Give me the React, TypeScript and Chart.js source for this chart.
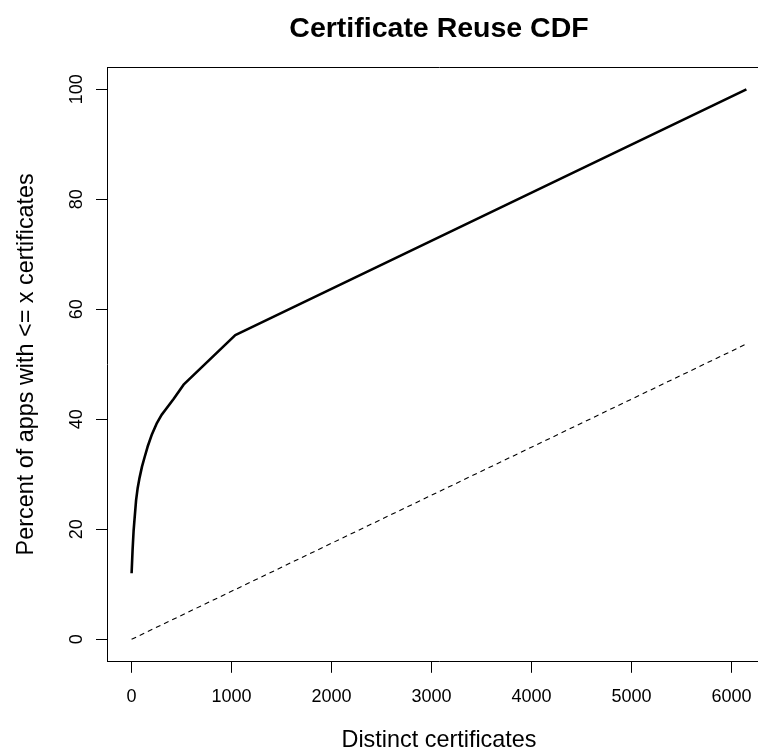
import React, { useEffect, useRef } from "react";
import { Chart, registerables } from "chart.js";

Chart.register(...registerables);

// Solid CDF curve: distinct certificates vs percent of apps
const certX = [0, 10, 20, 30, 45, 60, 80, 104, 130, 160, 204, 250, 300, 337, 420, 520, 1037, 6150];
const certY = [12, 16.3, 19.7, 22, 25.3, 27.4, 29.4, 31.4, 33.1, 35, 37.3, 39.2, 40.8, 41.7, 43.7, 46.3, 55.3, 100];

// Dashed reference line
const refX = [0, 6150];
const refY = [0, 53.7];

const xTicks = [0, 1000, 2000, 3000, 4000, 5000, 6000];
const yTicks = [0, 20, 40, 60, 80, 100];

const titleText = "Certificate Reuse CDF";
const xTitle = "Distinct certificates";
const yTitle = "Percent of apps with <= x certificates";

const FONT = "'Liberation Sans', Arial, Helvetica, sans-serif";

export default function App() {
  const ref = useRef<HTMLCanvasElement | null>(null);

  useEffect(() => {
    if (!ref.current) return;
    Chart.defaults.color = "#000";
    const chart = new Chart(ref.current, {
      type: "line",
      data: {
        datasets: [
          {
            data: certX.map((x, i) => ({ x, y: certY[i] })),
            borderColor: "#000",
            borderWidth: 2.6,
            borderJoinStyle: "round",
            borderCapStyle: "butt",
            pointRadius: 0,
            tension: 0,
            fill: false,
          },
          {
            data: refX.map((x, i) => ({ x, y: refY[i] })),
            borderColor: "#000",
            borderWidth: 1.1,
            borderDash: [5, 4],
            pointRadius: 0,
            tension: 0,
            fill: false,
          },
        ],
      },
      options: {
        responsive: false,
        animation: false,
        devicePixelRatio: 1,
        layout: { padding: { left: 0, right: 9, top: 0, bottom: 0 } },
        plugins: {
          legend: { display: false },
          tooltip: { enabled: false },
          title: {
            display: true,
            text: titleText,
            fullSize: false,
            color: "#000",
            font: { family: FONT, size: 28.5, weight: "bold", lineHeight: 1 },
            padding: { top: 15, bottom: 23.8 },
          },
        },
        scales: {
          x: {
            type: "linear",
            position: "bottom",
            min: -246,
            max: 6396,
            afterBuildTicks: (axis: any) => {
              axis.ticks = xTicks.map((v) => ({ value: v }));
            },
            afterFit: (axis: any) => {
              axis.height = 91.7;
            },
            grid: {
              drawOnChartArea: false,
              drawTicks: true,
              tickLength: 11.5,
              tickColor: "#000",
              tickWidth: 1,
            },
            border: { display: true, color: "#000", width: 1 },
            ticks: {
              autoSkip: false,
              maxRotation: 0,
              minRotation: 0,
              padding: 13,
              color: "#000",
              font: { family: FONT, size: 18, lineHeight: 1.2 },
              callback: (v: any) => String(v),
            },
            title: {
              display: true,
              text: xTitle,
              color: "#000",
              font: { family: FONT, size: 23.4, lineHeight: 1 },
              padding: { top: 0, bottom: 0.8 },
            },
          },
          x2: {
            type: "linear",
            position: "top",
            min: -246,
            max: 6396,
            afterFit: (axis: any) => {
              axis.height = 0;
            },
            grid: { drawOnChartArea: false, drawTicks: false },
            border: { display: true, color: "#000", width: 1 },
            ticks: { display: false },
          },
          y: {
            type: "linear",
            position: "left",
            min: -4,
            max: 104,
            afterBuildTicks: (axis: any) => {
              axis.ticks = yTicks.map((v) => ({ value: v }));
            },
            afterFit: (axis: any) => {
              axis.width = 107;
            },
            grid: {
              drawOnChartArea: false,
              drawTicks: true,
              tickLength: 11,
              tickColor: "#000",
              tickWidth: 1,
            },
            border: { display: true, color: "#000", width: 1 },
            ticks: {
              autoSkip: false,
              minRotation: 90,
              maxRotation: 90,
              crossAlign: "center",
              padding: 3.5,
              color: "#000",
              font: { family: FONT, size: 18, lineHeight: 1.2 },
              callback: (v: any) => String(v),
            },
            title: {
              display: true,
              text: yTitle,
              color: "#000",
              font: { family: FONT, size: 23.4, lineHeight: 1 },
              padding: { top: 14.5, bottom: 0 },
            },
          },
        },
      },
    } as any);
    return () => chart.destroy();
  }, []);

  return (
    <div
      style={{
        position: "fixed",
        left: 0,
        top: 0,
        width: 758,
        height: 753,
        overflow: "hidden",
        background: "#fff",
      }}
    >
      <canvas ref={ref} width={780} height={753} style={{ display: "block" }} />
    </div>
  );
}
